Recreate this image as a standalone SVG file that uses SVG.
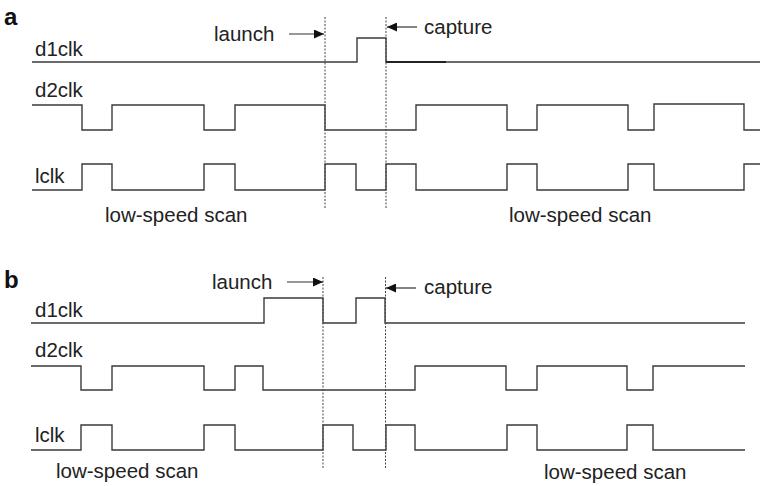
<svg xmlns="http://www.w3.org/2000/svg" width="760" height="486" viewBox="0 0 760 486">
  <defs>
    <marker id="head" viewBox="0 0 10 9" refX="10" refY="4.5" markerWidth="10" markerHeight="9" markerUnits="userSpaceOnUse" orient="auto">
      <path d="M0 0 L10 4.5 L0 9 Z" fill="#111"/>
    </marker>
    <style>
      text { font-family: "Liberation Sans", Arial, sans-serif; font-size: 20.5px; fill: #222; }
      .panel { font-size: 24px; font-weight: bold; fill: #111; }
      .wave { fill: none; stroke: #3a3a3a; stroke-width: 1.4; }
      .mark { fill: none; stroke: #444; stroke-width: 1; stroke-dasharray: 2 1.5; }
      .arrow { fill: none; stroke: #333; stroke-width: 1.2; marker-end: url(#head); }
    </style>
  </defs>
  <rect width="760" height="486" fill="#fff"/>

  <!-- panel a -->
  <g id="panel-a">
    <text class="panel" x="4" y="25">a</text>
    <g id="a-d1clk">
      <text x="35" y="56">d1clk</text>
      <path class="wave" d="M32 62 H357 V38 H386 V62 H760"/>
      <path d="M386 62 H446" stroke="#222" stroke-width="1.8" fill="none"/>
    </g>
    <g id="a-d2clk">
      <text x="35" y="97">d2clk</text>
      <path class="wave" d="M32 105 H82 V130 H112 V105 H204 V130 H235 V105 H325 V130 H416 V105 H507 V130 H537 V105 H628 V130 H654 V104 H744 V130 H760"/>
    </g>
    <g id="a-lclk">
      <text x="35" y="183">lclk</text>
      <path class="wave" d="M32 190 H82 V164 H112 V190 H204 V164 H235 V190 H325 V164 H356 V190 H386 V164 H416 V190 H507 V164 H537 V190 H628 V164 H654 V190 H744 V164 H760"/>
    </g>
    <text x="105" y="222">low-speed scan</text>
    <text x="509" y="222">low-speed scan</text>
    <text x="214" y="41">launch</text>
    <text x="424" y="34">capture</text>
  </g>

  <!-- panel b -->
  <g id="panel-b">
    <text class="panel" x="4" y="288">b</text>
    <g id="b-d1clk">
      <text x="35" y="317">d1clk</text>
      <path class="wave" d="M31 323 H264 V298 H323 V323 H356 V298 H385 V323 H745"/>
    </g>
    <g id="b-d2clk">
      <text x="35" y="357">d2clk</text>
      <path class="wave" d="M31 366 H81 V390 H112 V366 H204 V390 H235 V366 H263 V390 H415 V366 H506 V390 H537 V366 H627 V390 H653 V366 H745"/>
    </g>
    <g id="b-lclk">
      <text x="35" y="442">lclk</text>
      <path class="wave" d="M31 450 H81 V425 H112 V450 H204 V425 H235 V450 H323 V425 H353 V450 H386 V425 H415 V450 H507 V425 H537 V450 H627 V425 H653 V450 H745"/>
    </g>
    <text x="56" y="478">low-speed scan</text>
    <text x="544" y="479">low-speed scan</text>
    <text x="212" y="289">launch</text>
    <text x="424" y="294">capture</text>
  </g>

  <!-- launch / capture markers -->
  <g id="connectors">
    <path class="mark" d="M325 17 V208"/>
    <path class="mark" d="M386 17 V208"/>
    <path class="arrow" d="M289 34 H324"/>
    <path class="arrow" d="M417 27 H387"/>
    <path class="mark" d="M323 277 V468"/>
    <path class="mark" d="M385.5 277 V468"/>
    <path class="arrow" d="M287 282 H323"/>
    <path class="arrow" d="M416 288 H386"/>
  </g>
</svg>
